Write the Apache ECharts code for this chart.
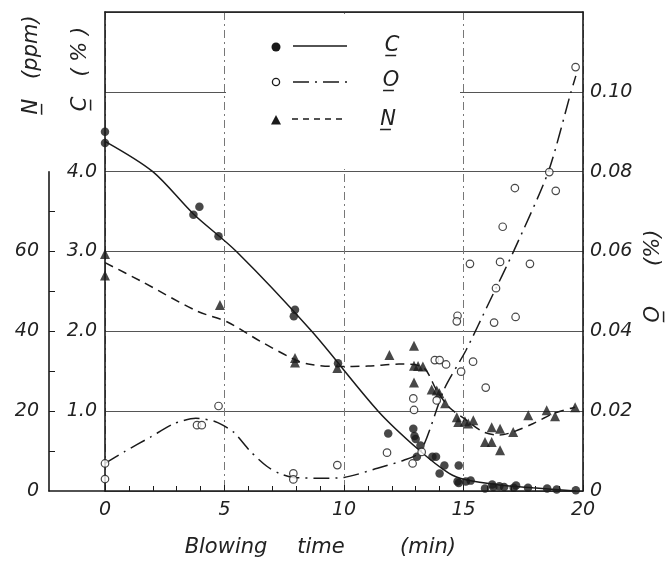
<!DOCTYPE html>
<html>
<head>
<meta charset="utf-8">
<script src="https://cdn.jsdelivr.net/npm/echarts@6/dist/echarts.min.js"></script>
<style>html,body{margin:0;padding:0;background:#fff}#c{width:668px;height:563px}</style>
</head>
<body>
<div id="c"></div>
<script>
// ---- data ----
const xTicks = [0, 5, 10, 15, 20];
const cTicks = [1, 2, 3, 4];
const oTicks = [0, 0.02, 0.04, 0.06, 0.08, 0.10];
const nTicks = [0, 20, 40, 60];
const nMinorTicks = [10, 20, 30, 40, 50, 60, 70];

// C (%) measured points [time(min), C%]
const cPoints = [[0,4.50],[0,4.36],[3.7,3.46],[3.95,3.56],[4.75,3.19],[7.9,2.19],[7.95,2.27],[9.75,1.60],[11.85,0.72],[12.9,0.78],[12.95,0.69],[13.0,0.65],[13.05,0.43],[13.2,0.57],[13.7,0.43],[13.85,0.43],[14.0,0.22],[14.2,0.32],[14.75,0.12],[14.8,0.32],[14.8,0.10],[15.1,0.12],[15.3,0.13],[15.9,0.03],[16.2,0.08],[16.25,0.05],[16.5,0.06],[16.7,0.05],[17.1,0.04],[17.2,0.07],[17.7,0.04],[18.5,0.03],[18.9,0.02],[19.7,0.01]];
// O (%) measured points
const oPoints = [[0,0.0069],[0,0.0030],[3.85,0.0165],[4.05,0.0165],[4.75,0.0213],[7.88,0.0044],[7.88,0.0029],[9.72,0.0065],[11.8,0.0096],[12.9,0.0232],[12.93,0.0203],[12.87,0.0069],[13.25,0.0098],[13.88,0.0227],[13.8,0.0328],[14.0,0.0328],[14.27,0.0317],[14.9,0.0299],[15.4,0.0324],[15.93,0.0259],[14.75,0.0439],[14.72,0.0425],[16.28,0.0422],[17.18,0.0436],[15.27,0.0569],[16.53,0.0574],[17.78,0.0569],[16.36,0.0508],[16.64,0.0662],[17.15,0.0759],[18.59,0.0799],[18.86,0.0752],[19.69,0.1062]];
// N (ppm) measured points
const nPoints = [[0,59.4],[0,54.0],[4.81,46.6],[7.95,33.3],[7.95,32.2],[9.72,30.8],[11.9,34.1],[12.93,36.4],[12.93,31.4],[13.1,31.3],[13.3,31.2],[12.93,27.2],[13.67,25.4],[13.88,25.2],[13.99,24.5],[14.23,22.0],[14.72,18.5],[14.78,17.3],[15.06,17.5],[15.2,16.9],[15.41,17.7],[16.18,16.0],[16.53,15.6],[15.9,12.3],[16.18,12.3],[16.53,10.2],[17.08,14.8],[17.71,19.0],[18.48,20.2],[18.83,18.7],[19.67,21.0]];

// hand-drawn trend curves
const cCurve = [[0,4.38],[2,4.0],[3.7,3.47],[5.5,3.0],[8.65,2.0],[11.43,1.0],[13.15,0.51],[14.4,0.22],[15.1,0.14],[16.5,0.075],[17.9,0.04],[19.7,0.0]];
const oCurve = [[0,0.0069],[0.8,0.0098],[1.9,0.0135],[2.9,0.0169],[3.8,0.0182],[4.6,0.0174],[5.37,0.0148],[6.07,0.0100],[6.77,0.0062],[7.3,0.0044],[7.9,0.0034],[9,0.0032],[10,0.0034],[11.4,0.0057],[12.5,0.0077],[13.2,0.0098],[14.2,0.0256],[15.1,0.0352],[16.1,0.0476],[17.1,0.0601],[18.55,0.080],[19.5,0.100],[19.7,0.104]];
const nCurve = [[0,57.2],[1.5,52.6],[3.84,45.1],[5.1,42.4],[6.5,37.5],[7.88,33.1],[8.5,31.8],[9.7,31.2],[11,31.3],[12.3,31.8],[13.3,31.0],[13.88,25.2],[14.4,21.0],[15.13,17.7],[15.83,14.8],[16.5,14.0],[17.08,14.8],[17.92,16.9],[18.76,19.4],[19.67,21.0]];

// ---- styling ----
const FONT = 'DejaVu Sans';
const ink = '#1a1a1a';
const lbl = {fontFamily: FONT, fontStyle: 'italic', fontSize: 19, color: '#222'};
const hasTick = (arr, v) => arr.some(t => Math.abs(t - v) < 1e-9);
const titleFont = 'italic 21px "DejaVu Sans"';

const chart = echarts.init(document.getElementById('c'), null, {renderer: 'canvas'});

const option = {
  animation: false,
  backgroundColor: '#fff',
  grid: [
    {left: 105, top: 12, width: 478, height: 479},
    {left: 49, top: 171.7, width: 56, height: 319.3}
  ],
  xAxis: [
    {
      type: 'value', gridIndex: 0, min: 0, max: 20, interval: 5,
      axisLine: {onZero: false, lineStyle: {color: ink, width: 1.6}},
      axisTick: {show: true, inside: true, length: 6, lineStyle: {color: ink}},
      minorTick: {show: true, splitNumber: 5, length: 5, lineStyle: {color: ink}},
      axisLabel: Object.assign({margin: 10, formatter: v => hasTick(xTicks, v) ? String(v) : ''}, lbl),
      splitLine: {show: true, lineStyle: {color: '#777', width: 1, type: [8, 4, 2, 4]}}
    },
    {
      type: 'value', gridIndex: 0, min: 0, max: 20, position: 'top',
      axisLine: {onZero: false, lineStyle: {color: ink, width: 1.6}},
      axisTick: {show: false}, axisLabel: {show: false}, splitLine: {show: false}
    },
    {
      type: 'value', gridIndex: 1, min: -2.3, max: 0,
      axisLine: {onZero: false, lineStyle: {color: ink, width: 1.6}},
      axisTick: {show: false}, axisLabel: {show: false}, splitLine: {show: false}
    }
  ],
  yAxis: [
    { // C (%)
      type: 'value', gridIndex: 0, min: 0, max: 6, interval: 1, position: 'left',
      axisLine: {show: true, onZero: false, lineStyle: {color: ink, width: 1.6}},
      axisTick: {show: false},
      axisLabel: Object.assign({margin: 8, formatter: v => hasTick(cTicks, v) ? v.toFixed(1) : ''}, lbl),
      splitLine: {show: true, lineStyle: {color: '#555', width: 1}}
    },
    { // O (%)
      type: 'value', gridIndex: 0, min: 0, max: 0.12, interval: 0.02, position: 'right',
      axisLine: {show: true, onZero: false, lineStyle: {color: ink, width: 1.6}},
      axisTick: {show: false},
      axisLabel: Object.assign({margin: 7, formatter: v => hasTick(oTicks, v) ? (v === 0 ? '0' : v.toFixed(2)) : ''}, lbl),
      splitLine: {show: false}
    },
    { // N (ppm) scale for plotting
      type: 'value', gridIndex: 0, min: 0, max: 120, show: false
    },
    { // N (ppm) visible axis
      type: 'value', gridIndex: 1, min: 0, max: 80, interval: 10, position: 'left',
      axisLine: {show: true, onZero: false, lineStyle: {color: ink, width: 1.6}},
      axisTick: {show: true, inside: true, length: 6, customValues: nMinorTicks, lineStyle: {color: ink}},
      axisLabel: Object.assign({margin: 10, formatter: v => hasTick(nTicks, v) ? String(v) : ''}, lbl),
      splitLine: {show: false}
    }
  ],
  graphic: [
    // blank box behind the key (grid lines are interrupted there)
    {type: 'rect', z: 1, shape: {x: 226, y: 14, width: 234, height: 155}, style: {fill: '#fff'}},
    // key
    {type: 'circle', z: 10, shape: {cx: 276, cy: 47, r: 4.5}, style: {fill: ink}},
    {type: 'line', z: 10, shape: {x1: 293, y1: 46, x2: 347, y2: 46}, style: {stroke: ink, lineWidth: 1.5}},
    {type: 'text', z: 10, x: 392, y: 46, style: {text: 'C\u0332', font: titleFont, fill: '#222', textAlign: 'center', textVerticalAlign: 'middle'}},
    {type: 'circle', z: 10, shape: {cx: 276, cy: 82, r: 3.6}, style: {fill: '#fff', stroke: ink, lineWidth: 1.3}},
    {type: 'line', z: 10, shape: {x1: 293, y1: 82, x2: 350, y2: 82}, style: {stroke: ink, lineWidth: 1.5, lineDash: [16, 6, 2, 6]}},
    {type: 'text', z: 10, x: 391, y: 81, style: {text: 'O\u0332', font: titleFont, fill: '#222', textAlign: 'center', textVerticalAlign: 'middle'}},
    {type: 'polygon', z: 10, shape: {points: [[276, 115], [281, 124.5], [271, 124.5]]}, style: {fill: ink}},
    {type: 'line', z: 10, shape: {x1: 292, y1: 119, x2: 346, y2: 119}, style: {stroke: ink, lineWidth: 1.5, lineDash: [6, 5]}},
    {type: 'text', z: 10, x: 388, y: 120, style: {text: 'N\u0332', font: titleFont, fill: '#222', textAlign: 'center', textVerticalAlign: 'middle'}},
    // axis titles
    {type: 'text', z: 10, x: 32, y: 65, rotation: Math.PI / 2, style: {text: 'N\u0332   (ppm)', font: titleFont, fill: '#222', textAlign: 'center', textVerticalAlign: 'middle'}},
    {type: 'text', z: 10, x: 81, y: 69, rotation: Math.PI / 2, style: {text: 'C\u0332   ( % )', font: titleFont, fill: '#222', textAlign: 'center', textVerticalAlign: 'middle'}},
    {type: 'text', z: 10, x: 654, y: 276, rotation: Math.PI / 2, style: {text: 'O\u0332      (%)', font: titleFont, fill: '#222', textAlign: 'center', textVerticalAlign: 'middle'}},
    {type: 'text', z: 10, x: 226, y: 548, style: {text: 'Blowing', font: titleFont, fill: '#222', textAlign: 'center', textVerticalAlign: 'middle'}},
    {type: 'text', z: 10, x: 321, y: 548, style: {text: 'time', font: titleFont, fill: '#222', textAlign: 'center', textVerticalAlign: 'middle'}},
    {type: 'text', z: 10, x: 428, y: 548, style: {text: '(min)', font: titleFont, fill: '#222', textAlign: 'center', textVerticalAlign: 'middle'}}
  ],
  series: [
    {name: 'C curve', type: 'line', xAxisIndex: 0, yAxisIndex: 0, data: cCurve, smooth: 0.3, showSymbol: false, clip: false,
      lineStyle: {color: ink, width: 1.5}, z: 3},
    {name: 'O curve', type: 'line', xAxisIndex: 0, yAxisIndex: 1, data: oCurve, smooth: 0.25, showSymbol: false, clip: false,
      lineStyle: {color: ink, width: 1.5, type: [16, 6, 2, 6]}, z: 3},
    {name: 'N curve', type: 'line', xAxisIndex: 0, yAxisIndex: 2, data: nCurve, smooth: 0.3, showSymbol: false, clip: false,
      lineStyle: {color: ink, width: 1.5, type: [9, 6]}, z: 3},
    {name: 'C', type: 'scatter', xAxisIndex: 0, yAxisIndex: 0, data: cPoints, symbol: 'circle', symbolSize: 8.5, clip: false,
      itemStyle: {color: ink}, z: 5},
    {name: 'O', type: 'scatter', xAxisIndex: 0, yAxisIndex: 1, data: oPoints, symbol: 'circle', symbolSize: 7.5, clip: false,
      itemStyle: {color: '#fff', borderColor: ink, borderWidth: 1.2}, z: 6},
    {name: 'N', type: 'scatter', xAxisIndex: 0, yAxisIndex: 2, data: nPoints, symbol: 'triangle', symbolSize: 10, clip: false,
      itemStyle: {color: ink}, z: 5}
  ]
};
chart.setOption(option);
</script>
</body>
</html>
